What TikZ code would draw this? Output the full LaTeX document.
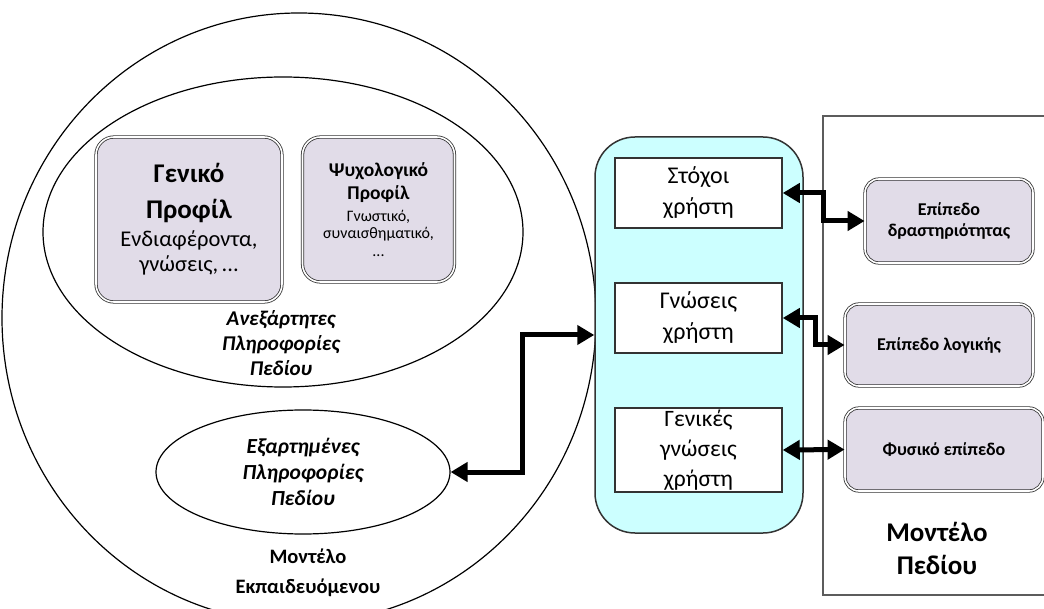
\documentclass[tikz,border=0pt]{standalone}
\usepackage{fontspec}
\setmainfont{Carlito}
\usetikzlibrary{arrows.meta,shapes.geometric}
\definecolor{lav}{HTML}{E1DCE8}
\definecolor{aqua}{HTML}{CCFFFF}
\definecolor{edge}{HTML}{333333}
\tikzset{
  thinline/.style={draw=black, line width=1.2},
  profile/.style={draw=edge, line width=0.8, double=white, double distance=1.6,
    fill=lav, rounded corners=18, align=center, inner sep=2},
  level/.style={profile, rounded corners=14, font=\bfseries\fontsize{18}{21}\selectfont},
  userbox/.style={draw=edge, line width=1.5, fill=white, minimum width=167,
    align=center, inner sep=0, font=\fontsize{24}{31}\selectfont},
  link/.style={line width=5, {Triangle[length=17,width=19]}-{Triangle[length=17,width=19]}},
}
\begin{document}
\begin{tikzpicture}[x=1pt,y=-1pt]
\useasboundingbox (0,0) rectangle (1044,609);
\begin{scope}
\clip (0,0) rectangle (1044,609);
% learner model outline and its inner regions
\draw[thinline] (299,318) ellipse [x radius=297, y radius=305];
\draw[thinline] (283,232) ellipse [x radius=240, y radius=155];
\node[draw=black, line width=1.2, ellipse, minimum width=294, minimum height=124,
  inner sep=0, align=center, font=\bfseries\itshape\fontsize{21.5}{26}\selectfont] (dep) at (303,472)
  {Εξαρτημένες\\Πληροφορίες\\Πεδίου};
% domain model frame (open to the right)
\draw[draw=edge!80, line width=2] (1050,116) -- (823,116) -- (823,595) -- (1050,595);
% domain levels
\node[level, minimum width=168, minimum height=84] (a) at (949,221) {Επίπεδο\\δραστηριότητας};
\node[level, minimum width=188, minimum height=82] (b) at (939,345) {Επίπεδο λογικής};
\node[level, minimum width=198, minimum height=83] (c) at (944,449.5) {Φυσικό επίπεδο};
\end{scope}
% independent information: profiles
\node[profile, text width=182, minimum height=165] (gen) at (189,219.5)
  {\vspace*{6pt}{\bfseries\fontsize{27}{30}\selectfont Γενικό\\Προφίλ\par}\vspace{3pt}
   {\fontsize{22.5}{25}\selectfont Ενδιαφέροντα,\\γνώσεις, ...\par}};
\node[profile, text width=148, minimum height=145] (psy) at (378.5,209.5)
  {\vspace*{3pt}{\bfseries\fontsize{19.5}{20}\selectfont Ψυχολογικό\\Προφίλ\par}\vspace{4pt}
   {\fontsize{16}{17.5}\selectfont Γνωστικό,\\συναισθηματικό,\\...\par}};
\node[align=center, font=\bfseries\itshape\fontsize{21}{25}\selectfont] (ind) at (281,343)
  {Ανεξάρτητες\\Πληροφορίες\\Πεδίου};
\node[align=center, font=\bfseries\fontsize{20.5}{30}\selectfont] (lm) at (308,573)
  {Μοντέλο\\Εκπαιδευόμενου};
% user model
\node[draw=edge, line width=1.5, fill=aqua, rounded corners=40,
  minimum width=208, minimum height=396] (um) at (699,335) {};
\node[userbox, minimum height=70] (s1) at (698.5,193) {Στόχοι\\χρήστη};
\node[userbox, minimum height=70] (s2) at (698.5,318) {Γνώσεις\\χρήστη};
\node[userbox, minimum height=84, font=\fontsize{23.5}{30}\selectfont] (s3) at (698.5,450)
  {Γενικές\\γνώσεις\\χρήστη};
\node[align=center, font=\bfseries\fontsize{27}{33}\selectfont] (dm) at (937,548)
  {Μοντέλο\\Πεδίου};
% connections
\draw[link] (s1.east) -- ++(41,0) |- (a.west);
\draw[link] (s2.east) -- ++(33,0) |- (b.west);
\draw[link] (s3.east) -- (c.west);
\draw[link] (dep.east) -- ++(72,0) |- (um.west);
\end{tikzpicture}
\end{document}
